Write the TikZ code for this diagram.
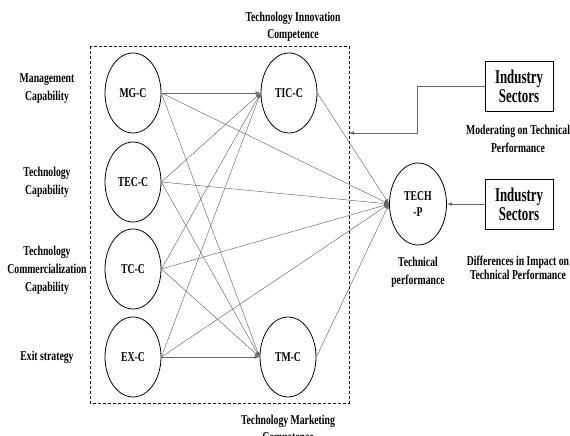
\documentclass[tikz,border=0pt]{standalone}
\usepackage{fontspec}
\newfontfamily\lbl{Liberation Serif}[FakeStretch=0.72]
\newfontfamily\lblb{Liberation Serif}[FakeStretch=0.66]
\usetikzlibrary{arrows.meta,shapes.geometric}
\begin{document}
\begin{tikzpicture}[x=1pt,y=-1pt,
  font={\lbl\bfseries\fontsize{13.5}{18}\selectfont},
  ell/.style={draw, ellipse, minimum width=56, minimum height=80, inner sep=0pt, line width=0.8pt},
  lnk/.style={draw=black!60, line width=0.45pt, -{Latex[length=5pt,width=3.5pt]}},
  lbox/.style={draw, line width=0.8pt, minimum width=68, minimum height=50, inner sep=0pt, align=center,
    font={\lblb\bfseries\fontsize{19.5}{19}\selectfont}},
  txt/.style={align=center, inner sep=0pt}]
\useasboundingbox (0,0) rectangle (570,436);
% dashed frame
\draw[dash pattern=on 3pt off 2pt, line width=0.6pt] (90,46) rectangle (349,403);
% ellipses
\node[ell] (mg) at (133,93) {MG-C};
\node[ell] (tec) at (133,182) {TEC-C};
\node[ell] (tc) at (133,269) {TC-C};
\node[ell] (ex) at (133,357) {EX-C};
\node[ell] (tic) at (289,93) {TIC-C};
\node[ell] (tm) at (288,357) {TM-C};
\node[ell, minimum width=57, minimum height=82, align=center, font={\lbl\bfseries\fontsize{13.5}{16}\selectfont}] (tp) at (418,204) {TECH\\-P};
% boxes
\node[lbox] (is1) at (519,86) {Industry\\Sectors};
\node[lbox] (is2) at (519,204) {Industry\\Sectors};
% labels
\node[txt] (l1) at (47,89) {Management\\Capability};
\node[txt] (l2) at (47,182.5) {Technology\\Capability};
\node[txt] (l3) at (47,270) {Technology\\Commercialization\\Capability};
\node[txt] (l4) at (47,357) {Exit strategy};
\node[txt, font={\lbl\bfseries\fontsize{13.5}{17}\selectfont}] (ltop) at (293,26.5) {Technology Innovation\\Competence};
\node[txt, font={\lbl\bfseries\fontsize{13.5}{17}\selectfont}] (lbot) at (288,429.5) {Technology Marketing\\Competence};
\node[txt] (ltp) at (418,272.5) {Technical\\performance};
\node[txt] (lmod) at (518,138.5) {Moderating on Technical\\Performance};
\node[txt, font={\lbl\bfseries\fontsize{13.5}{14}\selectfont}] (ldif) at (518,268) {Differences in Impact on\\Technical Performance};
% connectors
\foreach \s in {mg,tec,tc,ex}{
  \draw[lnk] (\s.east) -- (tic.west);
  \draw[lnk] (\s.east) -- (tm.west);
  \draw[lnk] (\s.east) -- (tp.west);
}
\draw[lnk] (tic.east) -- (tp.west);
\draw[lnk] (tm.east) -- (tp.west);
\coordinate (bend) at (417,133);
\coordinate (fr) at (349,133);
\draw[lnk] (is1.west) -| (bend) -- (fr);
\draw[lnk] (is2.west) -- (tp.east);
\end{tikzpicture}
\end{document}
